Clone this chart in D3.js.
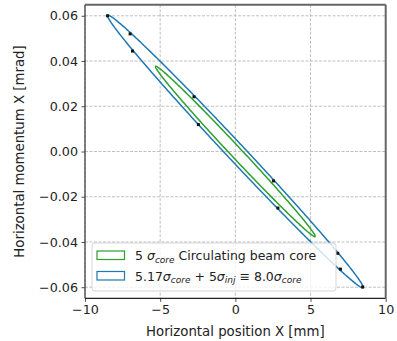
<!DOCTYPE html>
<html>
<head>
<meta charset="utf-8">
<script src="https://cdn.jsdelivr.net/npm/d3@7"></script>
<style>
  body { margin: 0; background: #fff; }
  text { font-family: "DejaVu Sans", sans-serif; }
</style>
</head>
<body>
<svg id="chart" width="397" height="341"></svg>
<script>
// ellipse parameters: x at the tip, momentum at the tip, momentum half-width at x = 0
var ellipseNames = ["core", "total"];
var ellipseColors = ["#2ca02c", "#1f77b4"];
var ellipseXMax = [5.31, 8.5];
var ellipsePAtXMax = [-0.0375, -0.06];
var ellipsePHalf = [0.00354, 0.00567];

// particle markers on the outer ellipse
var markerX = [-8.5, -7.0, -6.84, -2.75, -2.46, 2.54, 2.83, 6.81, 6.99, 8.47];
var markerP = [0.06, 0.052, 0.0444, 0.0242, 0.0119, -0.013, -0.025, -0.045, -0.052, -0.0599];

var xTicks = [-10, -5, 0, 5, 10];
var yTicks = [-0.06, -0.04, -0.02, 0.0, 0.02, 0.04, 0.06];

var margin = { left: 85, right: 11.3, top: 4.7, bottom: 42.7 };
var width = 397 - margin.left - margin.right,
  height = 341 - margin.top - margin.bottom;

var svg = d3.select("#chart");
var g = svg.append("g").attr("transform", "translate(" + margin.left + "," + margin.top + ")");

var x = d3.scaleLinear().domain([-10, 10]).range([0, width]);
var y = d3.scaleLinear().domain([-0.0649, 0.0649]).range([height, 0]);

// grid
g.append("g").selectAll("line").data(xTicks).enter().append("line")
  .attr("x1", function(d) { return x(d); }).attr("x2", function(d) { return x(d); })
  .attr("y1", 0).attr("y2", height)
  .style("stroke", "#b0b0b0").style("stroke-width", 0.8).style("stroke-dasharray", "3,1.5");
g.append("g").selectAll("line").data(yTicks).enter().append("line")
  .attr("y1", function(d) { return y(d); }).attr("y2", function(d) { return y(d); })
  .attr("x1", 0).attr("x2", width)
  .style("stroke", "#b0b0b0").style("stroke-width", 0.8).style("stroke-dasharray", "3,1.5");

// ellipses
var line = d3.line()
  .x(function(d) { return x(d[0]); })
  .y(function(d) { return y(d[1]); });

ellipseNames.forEach(function(name, i) {
  var pts = d3.range(0, 361, 1).map(function(a) {
    var t = a * Math.PI / 180;
    return [ellipseXMax[i] * Math.cos(t),
      ellipsePAtXMax[i] * Math.cos(t) - ellipsePHalf[i] * Math.sin(t)];
  });
  g.append("path").datum(pts).attr("d", line)
    .style("fill", "none").style("stroke", ellipseColors[i]).style("stroke-width", 1.5);
});

g.selectAll(".marker").data(markerX).enter().append("rect")
  .attr("class", "marker")
  .attr("x", function(d) { return x(d) - 1.5; })
  .attr("y", function(d, i) { return y(markerP[i]) - 1.5; })
  .attr("width", 3).attr("height", 3)
  .style("fill", "#111");

// axes
var xAxis = d3.axisBottom(x).tickValues(xTicks).tickSize(3.5).tickPadding(3.5)
  .tickFormat(function(d) { return d < 0 ? "\u2212" + Math.abs(d) : d; });
var yAxis = d3.axisLeft(y).tickValues(yTicks).tickSize(3.5).tickPadding(3.5)
  .tickFormat(function(d) { var s = Math.abs(d).toFixed(2); return d < 0 ? "\u2212" + s : s; });

var gx = g.append("g").attr("transform", "translate(0," + height + ")").call(xAxis);
var gy = g.append("g").call(yAxis);
[gx, gy].forEach(function(a) {
  a.select(".domain").remove();
  a.selectAll("line").style("stroke", "#222").style("stroke-width", 0.8);
  a.selectAll("text").style("font-size", "12.7px").style("fill", "#222")
    .style("font-family", "DejaVu Sans");
});

// spines
g.append("line").attr("x1", 0).attr("x2", 0).attr("y1", 0).attr("y2", height)
  .style("stroke", "#333").style("stroke-width", 1.2);
g.append("line").attr("x1", 0).attr("x2", width).attr("y1", height).attr("y2", height)
  .style("stroke", "#222").style("stroke-width", 1.2);
g.append("line").attr("x1", 0).attr("x2", width).attr("y1", 0).attr("y2", 0)
  .style("stroke", "#666").style("stroke-width", 2);
g.append("line").attr("x1", width).attr("x2", width).attr("y1", 0).attr("y2", height)
  .style("stroke", "#666").style("stroke-width", 2);

// legend
var lg = svg.append("g").attr("transform", "translate(92,243)");
lg.append("rect").attr("width", 244).attr("height", 48).attr("rx", 3)
  .style("fill", "#fff").style("fill-opacity", 0.8).style("stroke", "#ccc").style("stroke-width", 0.8);

var legendRows = [
  [["5 ", false, false], ["\u03c3", true, false], ["core", true, true], [" Circulating beam core", false, false]],
  [["5.17", false, false], ["\u03c3", true, false], ["core", true, true], [" + 5", false, false],
    ["\u03c3", true, false], ["inj", true, true], [" \u2261 8.0", false, false], ["\u03c3", true, false], ["core", true, true]]
];
var legendColors = ["#2ca02c", "#1f77b4"];

legendRows.forEach(function(row, i) {
  var yy = 8 + i * 20.5;
  lg.append("rect").attr("x", 5).attr("y", yy).attr("width", 27.5).attr("height", 8.5)
    .style("fill", "none").style("stroke", legendColors[i]).style("stroke-width", 1.2);
  var t = lg.append("text").attr("x", 43).attr("y", yy + 9).style("font-size", "12.5px").style("fill", "#222");
  row.forEach(function(part, j) {
    var ts = t.append("tspan").text(part[0]);
    if (part[1]) ts.style("font-style", "italic");
    if (part[2]) ts.style("font-size", "9px").attr("dy", 2.5);
    else if (j > 0 && row[j - 1][2]) ts.attr("dy", -2.5);
  });
});

// axis labels
svg.append("text").attr("x", margin.left + width / 2).attr("y", 335.5)
  .attr("text-anchor", "middle").style("font-size", "13.3px").style("fill", "#222")
  .text("Horizontal position X [mm]");
svg.append("text").attr("transform", "translate(24," + (margin.top + height / 2) + ") rotate(-90)")
  .attr("text-anchor", "middle").style("font-size", "13.3px").style("fill", "#222")
  .text("Horizontal momentum X [mrad]");
</script>
</body>
</html>
